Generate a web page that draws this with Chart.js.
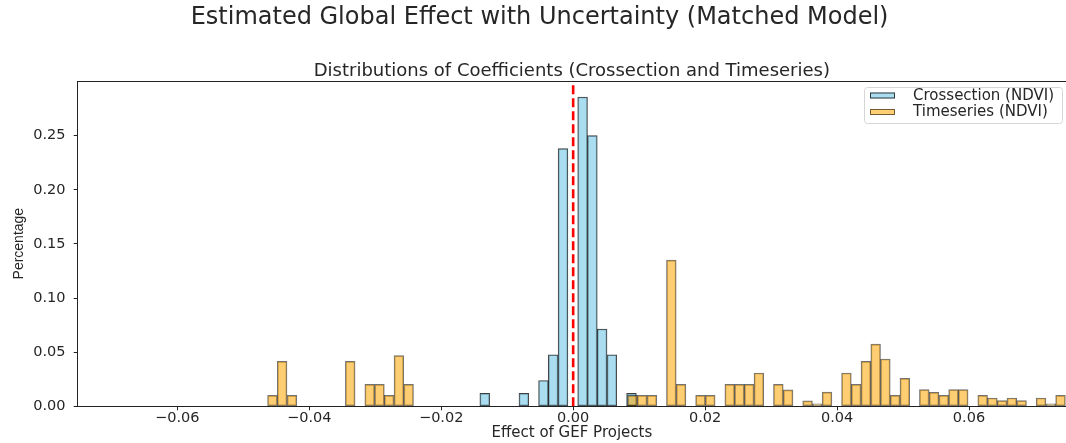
<!DOCTYPE html>
<html>
<head>
<meta charset="utf-8">
<script src="https://cdn.jsdelivr.net/npm/chart.js@4.4.1/dist/chart.umd.min.js"></script>
<style>
  html, body { margin: 0; padding: 0; background: #fff; }
  #wrap { width: 1066px; height: 443px; }
</style>
</head>
<body>
<div id="wrap"><canvas id="chart"></canvas></div>
<script>
"use strict";

// histogram bins (bin centre, share of projects)
var cross_x = [-0.01340, -0.00747, -0.00450, -0.00302, -0.00154, 0.00143, 0.00291, 0.00439, 0.00587, 0.00884];
var cross_y = [0.0119, 0.0119, 0.0238, 0.0476, 0.2381, 0.2857, 0.2500, 0.0714, 0.0476, 0.0119];

var time_x = [-0.04558, -0.04411, -0.04263, -0.03379, -0.03084, -0.02936, -0.02789, -0.02641, -0.02494,
  0.00898, 0.01046, 0.01193, 0.01488, 0.01635, 0.01930, 0.02078,
  0.02373, 0.02520, 0.02668, 0.02815, 0.03110, 0.03258, 0.03553, 0.03700, 0.03848,
  0.04142, 0.04290, 0.04437, 0.04585, 0.04732, 0.04880, 0.05027,
  0.05322, 0.05470, 0.05617, 0.05765, 0.05912, 0.06207, 0.06354, 0.06502, 0.06649, 0.06797,
  0.07092, 0.07239, 0.07387];
var time_y = [0.0101, 0.0415, 0.0101, 0.0415, 0.0203, 0.0203, 0.0101, 0.0468, 0.0203,
  0.0101, 0.0101, 0.0101, 0.1350, 0.0203, 0.0101, 0.0101,
  0.0203, 0.0203, 0.0203, 0.0308, 0.0203, 0.0151, 0.0050, 0.0022, 0.0131,
  0.0308, 0.0203, 0.0415, 0.0575, 0.0437, 0.0101, 0.0258,
  0.0154, 0.0129, 0.0101, 0.0154, 0.0154, 0.0101, 0.0077, 0.0053, 0.0077, 0.0053,
  0.0077, 0.0022, 0.0101];

var x_ticks = [-0.06, -0.04, -0.02, 0.00, 0.02, 0.04, 0.06];
var y_ticks = [0.00, 0.05, 0.10, 0.15, 0.20, 0.25];
var x_range = [-0.0751, 0.0747];
var y_range = [0, 0.3005];
var zero_x = 0;

var text_color = "#262626";
var font_main = '"DejaVu Sans", sans-serif';
var sub_title = "Distributions of Coefficients (Crossection and Timeseries)";

function points(xs, ys) {
  return xs.map(function(x, i) { return {x: x, y: ys[i]}; });
}

function fmt_tick(v) {
  return (v < 0 ? "\u2212" : "") + Math.abs(v).toFixed(2);
}

// axes title, top spine and a matplotlib style legend inside the top right corner
var legend_box = {
  id: "legend_box",
  afterDraw: function(chart) {
    var ctx = chart.ctx;
    var area = chart.chartArea;
    ctx.save();
    ctx.strokeStyle = "#222";
    ctx.lineWidth = 1;
    ctx.beginPath();
    ctx.moveTo(area.left, area.top + 0.5);
    ctx.lineTo(area.right, area.top + 0.5);
    ctx.stroke();

    ctx.fillStyle = text_color;
    ctx.font = "18px " + font_main;
    ctx.textAlign = "center";
    ctx.textBaseline = "middle";
    ctx.fillText(sub_title, (area.left + area.right) / 2, 71);
    ctx.textAlign = "left";

    var items = chart.data.datasets.filter(function(d) { return d.in_legend; });
    ctx.font = "15px " + font_main;
    var tw = 0;
    items.forEach(function(d) { tw = Math.max(tw, ctx.measureText(d.label).width); });
    var w = 6 + 25 + 18 + tw + 8;
    var h = 36;
    var x0 = area.right - 4 - w;
    var y0 = area.top + 6;
    ctx.fillStyle = "rgba(255,255,255,0.8)";
    ctx.strokeStyle = "#d6d6d6";
    ctx.beginPath();
    ctx.roundRect(x0 + 0.5, y0 + 0.5, w, h, 3);
    ctx.fill();
    ctx.stroke();
    items.forEach(function(d, i) {
      var cy = y0 + 8.5 + i * 16.5;
      ctx.fillStyle = "#fff";
      ctx.fillRect(x0 + 6, cy - 3, 25, 6);
      ctx.fillStyle = d.backgroundColor;
      ctx.fillRect(x0 + 6, cy - 3, 25, 6);
      ctx.strokeStyle = d.borderColor;
      ctx.strokeRect(x0 + 6.5, cy - 2.5, 24, 5);
      ctx.fillStyle = text_color;
      ctx.textBaseline = "middle";
      ctx.fillText(d.label, x0 + 6 + 25 + 18, cy + 0.5);
    });
    ctx.restore();
  }
};

function init_chart() {
  new Chart(document.getElementById("chart"), {
    type: "bar",
    data: {
      datasets: [
        {
          label: "Crossection (NDVI)",
          in_legend: true,
          data: points(cross_x, cross_y),
          backgroundColor: "rgba(135, 206, 235, 0.7)",
          borderColor: "rgba(0, 0, 0, 0.75)",
          borderWidth: 1,
          borderSkipped: false,
          grouped: false,
          barPercentage: 1,
          categoryPercentage: 1,
          xAxisID: "x",
          order: 2
        },
        {
          label: "Timeseries (NDVI)",
          in_legend: true,
          data: points(time_x, time_y),
          backgroundColor: "rgba(255, 165, 0, 0.55)",
          borderColor: "rgba(0, 0, 0, 0.55)",
          borderWidth: 1,
          borderSkipped: false,
          grouped: false,
          barPercentage: 1,
          categoryPercentage: 1,
          xAxisID: "x2",
          order: 1
        },
        {
          type: "line",
          label: "zero",
          data: [{x: zero_x, y: y_range[0]}, {x: zero_x, y: y_range[1]}],
          borderColor: "rgb(255, 0, 0)",
          borderWidth: 2.6,
          borderDash: [9, 4],
          pointRadius: 0,
          fill: false,
          xAxisID: "x",
          order: 0
        }
      ]
    },
    options: {
      responsive: true,
      maintainAspectRatio: false,
      animation: false,
      layout: { padding: { left: 13.1, right: 0, top: 0, bottom: 0 } },
      plugins: {
        legend: { display: false },
        tooltip: { enabled: false },
        title: {
          display: true,
          text: "Estimated Global Effect with Uncertainty (Matched Model)",
          color: text_color,
          font: { family: font_main, size: 24, weight: "normal", lineHeight: 1.2 },
          padding: { top: 3.6, bottom: 48.6 }
        }
      },
      scales: {
        x: {
          type: "linear",
          min: x_range[0],
          max: x_range[1],
          offset: false,
          afterBuildTicks: function(scale) {
            scale.ticks = x_ticks.map(function(v) { return {value: v}; });
          },
          ticks: {
            color: text_color,
            font: { family: font_main, size: 14.5, lineHeight: 1 },
            padding: 0.4,
            maxRotation: 0,
            callback: fmt_tick
          },
          grid: { offset: false, drawOnChartArea: false, tickLength: 4, tickColor: "#222" },
          border: { display: true, color: "#222" },
          title: {
            display: true,
            text: "Effect of GEF Projects",
            color: text_color,
            font: { family: font_main, size: 15, lineHeight: 1 },
            padding: { top: 0, bottom: 2.4 }
          }
        },
        x2: {
          type: "linear",
          display: false,
          min: x_range[0],
          max: x_range[1],
          offset: false
        },
        y: {
          min: y_range[0],
          max: y_range[1],
          afterBuildTicks: function(scale) {
            scale.ticks = y_ticks.map(function(v) { return {value: v}; });
          },
          ticks: {
            color: text_color,
            font: { family: font_main, size: 14.5 },
            padding: 8.2,
            callback: function(v) { return v.toFixed(2); }
          },
          grid: { offset: false, drawOnChartArea: false, tickLength: 4, tickColor: "#222" },
          border: { display: true, color: "#222" },
          title: {
            display: true,
            text: "Percentage",
            color: text_color,
            font: { family: '"Liberation Sans Narrow", "Liberation Sans", sans-serif', size: 14, lineHeight: 0.85 },
            padding: { top: 0, bottom: 0 }
          }
        }
      }
    },
    plugins: [legend_box]
  });
}

init_chart();
</script>
</body>
</html>
